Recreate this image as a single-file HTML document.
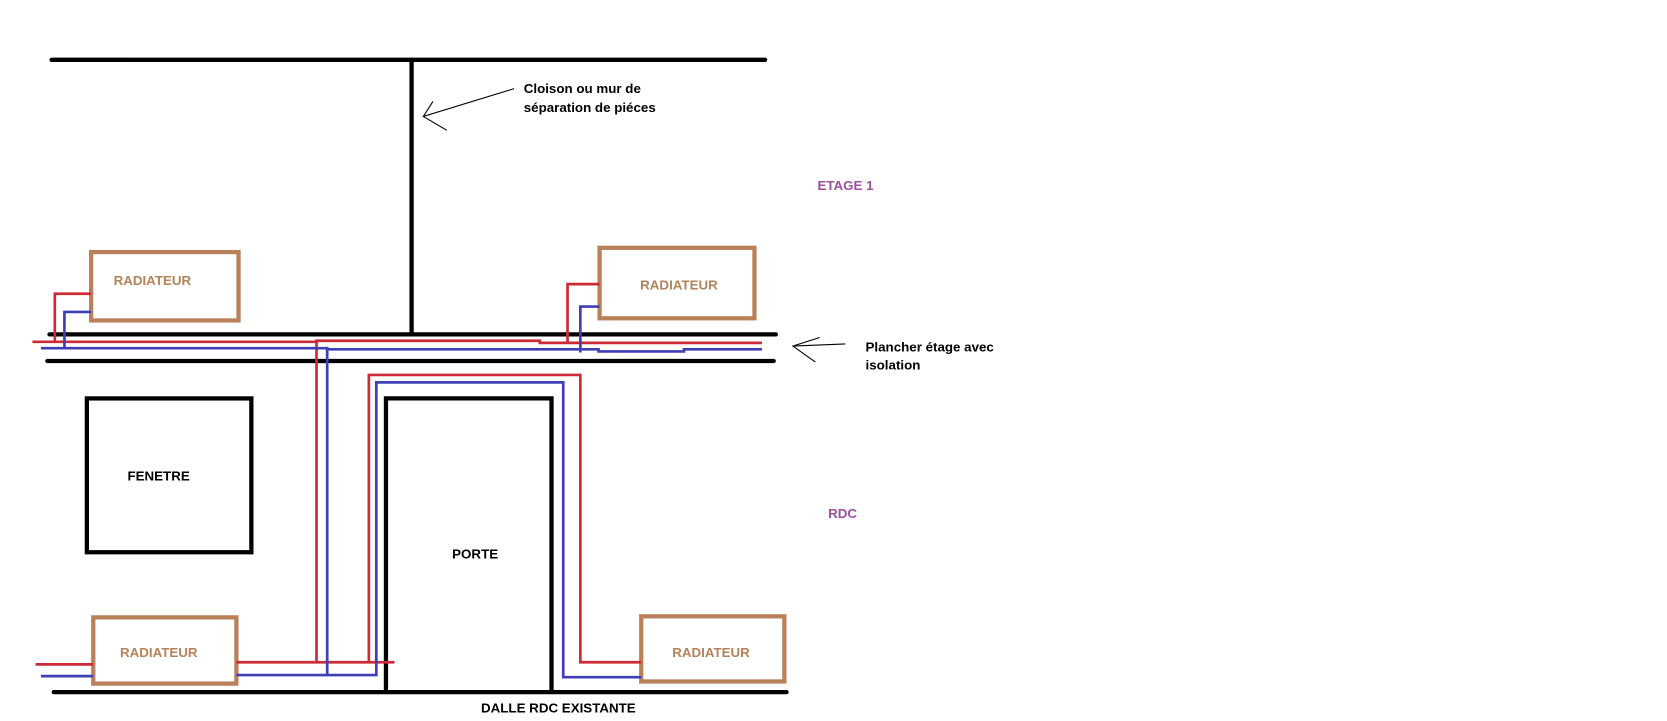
<!DOCTYPE html>
<html><head><meta charset="utf-8"><style>
html,body{margin:0;padding:0;background:#fff;}
svg{display:block;}
text{font-family:"Liberation Sans",sans-serif;font-weight:bold;}
</style></head><body>
<svg width="1667" height="721" viewBox="0 0 1560 675" xmlns="http://www.w3.org/2000/svg">
<rect width="1560" height="675" fill="#fff"/>
<!-- black structure -->
<g stroke="#000" stroke-width="4" stroke-linecap="round" fill="none">
<line x1="48" y1="56" x2="716" y2="56"/>
<line x1="385" y1="56" x2="385" y2="313"/>
<line x1="46" y1="313" x2="726" y2="313"/>
<line x1="44" y1="338" x2="724" y2="338"/>
<line x1="50" y1="648" x2="736" y2="648"/>
<rect x="81" y="373" width="154" height="144"/>
<polyline points="361,648 361,373 516,373 516,648"/>
</g>
<!-- arrows -->
<g stroke="#000" stroke-width="1" fill="none">
<polyline points="481,83 396,109 418,122"/>
<line x1="396" y1="109" x2="405" y2="95"/>
<polyline points="767,316 742,324 763,339"/>
<line x1="742" y1="324" x2="791" y2="322"/>
</g>
<!-- radiators -->
<g stroke="#b9805a" stroke-width="4" fill="none">
<rect x="85" y="236" width="138" height="64"/>
<rect x="561" y="232" width="145" height="66"/>
<rect x="87" y="578" width="134" height="62"/>
<rect x="600" y="577" width="134" height="61"/>
</g>
<!-- red pipes -->
<g stroke="#cc2b36" stroke-width="2.5" fill="none">
<polyline points="30,320 296,320 296,319 505,319 505,321 713,321"/>
<polyline points="85,275 51,275 51,320"/>
<polyline points="561,266 531,266 531,321"/>
<polyline points="296,320 296,619"/>
<polyline points="221,620 369,620"/>
<polyline points="345,620 345,351 543,351 543,620 600,620"/>
<line x1="33" y1="622" x2="87" y2="622"/>
</g>
<!-- blue pipes -->
<g stroke="#3f3fb5" stroke-width="2.5" fill="none">
<polyline points="38,326 306,326 306,327 560,327 560,329 640,329 640,327 713,327"/>
<polyline points="85,292 60,292 60,326"/>
<polyline points="561,287 543,287 543,330"/>
<polyline points="306,326 306,632"/>
<polyline points="221,632 352,632 352,358 527,358 527,634 600,634"/>
<line x1="38" y1="633" x2="87" y2="633"/>
</g>
<!-- labels -->
<g font-size="12.5" fill="#b5835a">
<text x="106" y="267">RADIATEUR</text>
<text x="599" y="271">RADIATEUR</text>
<text x="112" y="615">RADIATEUR</text>
<text x="629" y="615">RADIATEUR</text>
</g>
<g font-size="12.5" fill="#000">
<text x="490" y="87">Cloison ou mur de</text>
<text x="490" y="105">séparation de piéces</text>
<text x="810" y="329">Plancher étage avec</text>
<text x="810" y="346">isolation</text>
<text x="119" y="450">FENETRE</text>
<text x="423" y="523">PORTE</text>
<text x="450" y="667">DALLE RDC EXISTANTE</text>
</g>
<g font-size="12.5" fill="#9b4f9e">
<text x="765" y="178">ETAGE 1</text>
<text x="775" y="485">RDC</text>
</g>
</svg>
</body></html>
